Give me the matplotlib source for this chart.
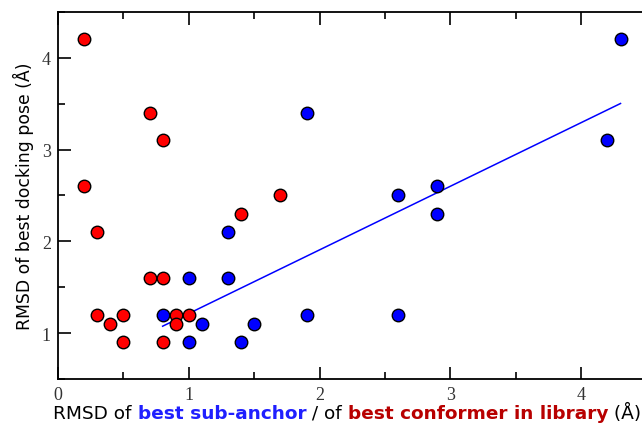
import numpy as np
import matplotlib
matplotlib.use("Agg")
import matplotlib.pyplot as plt
from matplotlib.ticker import MultipleLocator
from matplotlib.offsetbox import TextArea, HPacker, AnchoredOffsetbox

# best conformer in library (red)
conf_x = [0.2, 0.2, 0.3, 0.3, 0.4, 0.5, 0.5, 0.7, 0.8, 0.7, 0.8, 0.8, 0.9, 0.9, 1.0, 1.4, 1.7]
conf_y = [4.2, 2.6, 2.1, 1.2, 1.1, 1.2, 0.9, 3.4, 3.1, 1.6, 1.6, 0.9, 1.2, 1.1, 1.2, 2.3, 2.5]

# best sub-anchor (blue)
anchor_x = [0.8, 1.0, 1.0, 1.1, 1.3, 1.3, 1.4, 1.5, 1.9, 1.9, 2.6, 2.6, 2.9, 2.9, 4.2, 4.3]
anchor_y = [1.2, 1.6, 0.9, 1.1, 2.1, 1.6, 0.9, 1.1, 3.4, 1.2, 2.5, 1.2, 2.6, 2.3, 3.1, 4.2]

BLUE = "#0000ff"
RED = "#ff0000"
LABEL_BLUE = "#1f1fff"
LABEL_RED = "#b80000"

fig = plt.figure(figsize=(6.42, 4.27), dpi=100)
ax = fig.add_axes([0.0903, 0.110, 0.917, 0.860])

# linear fit on the sub-anchor points
slope, intercept = np.polyfit(anchor_x, anchor_y, 1)
fit_x = np.array([min(anchor_x), max(anchor_x)])
ax.plot(fit_x, slope * fit_x + intercept, color=BLUE, linewidth=1.1, zorder=2)

ax.plot(conf_x, conf_y, "o", color=RED, markeredgecolor="black",
        markersize=9, markeredgewidth=1.0, zorder=3)
ax.plot(anchor_x, anchor_y, "o", color=BLUE, markeredgecolor="black",
        markersize=9, markeredgewidth=1.0, zorder=3)

ax.set_xlim(0, 4.5)
ax.set_ylim(0.5, 4.5)

ax.xaxis.set_major_locator(MultipleLocator(1))
ax.xaxis.set_minor_locator(MultipleLocator(0.5))
ax.yaxis.set_major_locator(MultipleLocator(1))
ax.yaxis.set_minor_locator(MultipleLocator(0.5))
ax.tick_params(which="both", direction="in", top=True, right=False, width=1.2)
ax.tick_params(which="major", length=9, pad=5)
ax.tick_params(which="minor", length=5)
for lab in ax.get_xticklabels() + ax.get_yticklabels():
    lab.set_fontfamily("Liberation Serif")
    lab.set_fontsize(13)
    lab.set_color("#333333")
for sp in ax.spines.values():
    sp.set_linewidth(1.3)

ax.set_ylabel("RMSD of best docking pose (Å)", fontsize=12.4, labelpad=6)

# multi-coloured x label
parts = [
    ("RMSD of ", "black", "normal"),
    ("best sub-anchor", LABEL_BLUE, "bold"),
    (" / of ", "black", "normal"),
    ("best conformer in library", LABEL_RED, "bold"),
    (" (Å)", "black", "normal"),
]
boxes = [TextArea(t, textprops=dict(color=c, fontweight=w, fontsize=13.3,
                                    family="DejaVu Sans"))
         for t, c, w in parts]
packed = HPacker(children=boxes, align="baseline", pad=0, sep=0)
anchored = AnchoredOffsetbox(loc="center", child=packed, pad=0, frameon=False,
                             bbox_to_anchor=(0.541, 0.032),
                             bbox_transform=fig.transFigure, borderpad=0)
fig.add_artist(anchored)

fig.savefig("out.png", dpi=100)
